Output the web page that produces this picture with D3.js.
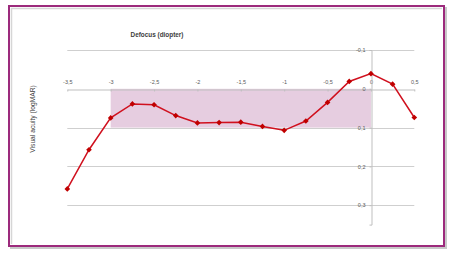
<!DOCTYPE html>
<html>
<head>
<meta charset="utf-8">
<script src="https://cdn.jsdelivr.net/npm/d3@7"></script>
<style>
  html, body { margin: 0; padding: 0; background: #fff; }
  svg { display: block; font-family: "Liberation Sans", Arial, sans-serif; }
</style>
</head>
<body>
<svg id="chart" width="450" height="254"></svg>
<script>
// defocus in diopters, acuity in logMAR
const defocus = [-3.5, -3.25, -3, -2.75, -2.5, -2.25, -2, -1.75, -1.5, -1.25, -1, -0.75, -0.5, -0.25, 0, 0.25, 0.5];
const acuity = [0.258, 0.157, 0.075, 0.039, 0.041, 0.069, 0.088, 0.087, 0.086, 0.097, 0.107, 0.083, 0.035, -0.019, -0.039, -0.012, 0.074];
const xTicks = [-3.5, -3, -2.5, -2, -1.5, -1, -0.5, 0, 0.5];
const yTicks = [-0.1, 0, 0.1, 0.2, 0.3];
// depth-of-focus band
const bandX = [-3, 0];
const bandY = [0, 0.1];

const fmt = d => String(d).replace(".", ",");

const svg = d3.select("#chart");

// frame with a soft shadow
svg.append("rect")
  .attr("x", 10).attr("y", 7).attr("width", 437).attr("height", 242)
  .attr("fill", "#c8c8c8");
svg.append("rect")
  .attr("x", 9).attr("y", 6).attr("width", 435).attr("height", 240)
  .attr("fill", "#fff").attr("stroke", "#9c2a7c").attr("stroke-width", 2);
svg.append("path")
  .attr("d", "M11.5,244V8.5H442")
  .attr("fill", "none").attr("stroke", "#d6d6d6").attr("stroke-width", 1.5);

const x = d3.scaleLinear([-3.5, 0.5], [67.3, 414.3]);
const y = d3.scaleLinear([-0.1, 0.35], [50, 224.6]);

// shaded band
svg.append("rect")
  .attr("x", x(bandX[0])).attr("y", y(bandY[0]))
  .attr("width", x(bandX[1]) - x(bandX[0]))
  .attr("height", y(bandY[1]) - y(bandY[0]))
  .attr("fill", "#e6cde0");

// gridlines
svg.append("g")
  .selectAll("line")
  .data(yTicks.filter(d => d !== 0))
  .join("line")
  .attr("x1", x(-3.5)).attr("x2", x(0.5))
  .attr("y1", d => Math.round(y(d)) + 0.5).attr("y2", d => Math.round(y(d)) + 0.5)
  .attr("stroke", "#cfcfcf");

// x axis at y = 0, labels above
const xAxis = svg.append("g")
  .attr("transform", `translate(0,${Math.round(y(0)) + 0.5})`)
  .call(d3.axisTop(x).tickValues(xTicks).tickFormat(fmt).tickSizeInner(-2).tickSizeOuter(0).tickPadding(6));
xAxis.select(".domain").attr("stroke", "#bfbfbf");
xAxis.selectAll(".tick line").attr("stroke", "#bfbfbf");
xAxis.selectAll("text").attr("fill", "#595959").attr("font-size", 5.5);

// y axis at x = 0
const yAxis = svg.append("g")
  .attr("transform", `translate(${Math.round(x(0)) + 0.5},0)`)
  .call(d3.axisLeft(y).tickValues(yTicks).tickFormat(fmt).tickSize(2).tickPadding(4));
yAxis.select(".domain").attr("stroke", "#bfbfbf");
yAxis.selectAll(".tick line").attr("stroke", "#bfbfbf");
yAxis.selectAll("text").attr("fill", "#595959").attr("font-size", 5.5);

// titles
svg.append("text")
  .attr("x", 157).attr("y", 37)
  .attr("text-anchor", "middle")
  .attr("font-size", 6.4).attr("font-weight", "bold").attr("fill", "#404040")
  .text("Defocus (diopter)");

svg.append("text")
  .attr("transform", "translate(35,119) rotate(-90)")
  .attr("text-anchor", "middle")
  .attr("font-size", 6.7).attr("fill", "#404040")
  .text("Visual acuity (logMAR)");

// curve
const line = d3.line().x((d, i) => x(defocus[i])).y(d => y(d));
svg.append("path")
  .datum(acuity)
  .attr("d", line)
  .attr("fill", "none").attr("stroke", "#d0101e").attr("stroke-width", 1.5);

svg.append("g")
  .selectAll("path")
  .data(acuity)
  .join("path")
  .attr("transform", (d, i) => `translate(${x(defocus[i])},${y(d)}) rotate(45)`)
  .attr("d", d3.symbol(d3.symbolSquare, 16))
  .attr("fill", "#c00000");
</script>
</body>
</html>
